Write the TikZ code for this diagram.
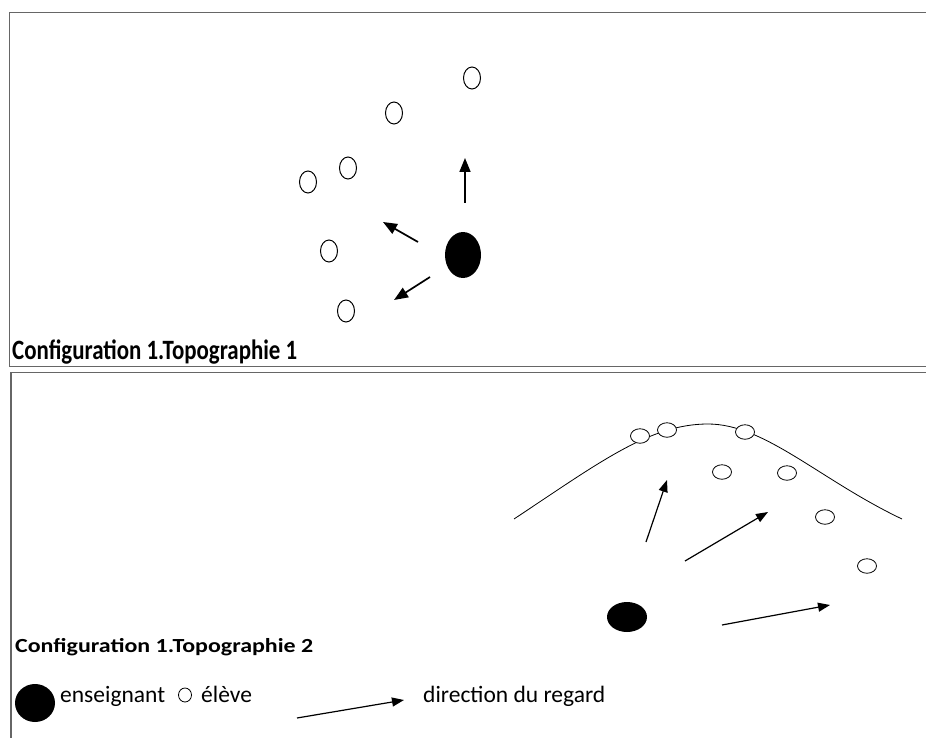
\documentclass[tikz,border=0pt]{standalone}
\usepackage{graphicx}
\usepackage{fontspec}
\setmainfont{Carlito}
\usetikzlibrary{arrows.meta, shapes.geometric}

\begin{document}
\begin{tikzpicture}[
  x=1pt, y=-1pt,
  cadre/.style={draw=black!60, line width=1.4pt},
  eleve/.style={draw, ellipse, fill=white, line width=1pt, inner sep=0pt, minimum width=17pt, minimum height=22pt},
  elevebas/.style={draw, ellipse, fill=white, line width=0.8pt, inner sep=0pt, minimum width=19pt, minimum height=14.5pt},
  prof/.style={ellipse, fill=black, inner sep=0pt},
  regard/.style={-{Triangle[length=14pt, width=11pt]}, line width=1.7pt},
  regardbas/.style={-{Triangle[length=12pt, width=9pt]}, line width=1.2pt},
  legende/.style={anchor=base west, inner sep=0pt, font=\fontsize{23.5}{23.5}\selectfont}
]
\useasboundingbox (0,0) rectangle (926,738);

% cadres
\draw[cadre] (926,12.5) -- (9.5,12.5) -- (9.5,366.5) -- (926,366.5);
\draw[cadre] (926,372.5) -- (11,372.5) -- (11,738);

% topographie 1
\node[prof, minimum width=36pt, minimum height=46pt] (ens1) at (463,255) {};
\node[eleve] (e1) at (472,78) {};
\node[eleve] (e2) at (394,113) {};
\node[eleve] (e3) at (348,168) {};
\node[eleve] (e4) at (308,182) {};
\node[eleve] (e5) at (329,251) {};
\node[eleve] (e6) at (346,311) {};
\coordinate (h0) at (465,203); \coordinate (h1) at (465,158);
\coordinate (g0) at (418,242); \coordinate (g1) at (383,222);
\coordinate (b0) at (430,277); \coordinate (b1) at (394,300);
\draw[regard] (h0)--(h1); \draw[regard] (g0)--(g1); \draw[regard] (b0)--(b1);
\node[legende, font=\bfseries\fontsize{28}{28}\selectfont] (titre1) at (12,359)
  {\resizebox{285pt}{\height}{Configuration 1.Topographie 1}};

% topographie 2
\draw[line width=0.8pt] (514,519) .. controls (600,462) and (650,424) .. (708,424)
  .. controls (765,424) and (820,480) .. (902,519);
\node[elevebas] (f1) at (640,436) {};
\node[elevebas] (f2) at (667,430) {};
\node[elevebas] (f3) at (745,432) {};
\node[elevebas] (f4) at (722,472) {};
\node[elevebas] (f5) at (787,473) {};
\node[elevebas] (f6) at (825,517) {};
\node[elevebas] (f7) at (867,566) {};
\node[prof, minimum width=40pt, minimum height=30pt] (ens2) at (627,617) {};
\coordinate (p0) at (646,542); \coordinate (p1) at (667,480);
\coordinate (q0) at (685,561); \coordinate (q1) at (768,512);
\coordinate (s0) at (722,625); \coordinate (s1) at (830,605);
\draw[regardbas] (p0)--(p1); \draw[regardbas] (q0)--(q1); \draw[regardbas] (s0)--(s1);
\node[legende, font=\bfseries\fontsize{20}{20}\selectfont] (titre2) at (15,652)
  {\resizebox{298pt}{\height}{Configuration 1.Topographie 2}};

% legende
\node[prof, minimum width=40pt, minimum height=38pt] (lens) at (35,703) {};
\node[legende] (tens) at (60,702) {enseignant};
\node[draw, ellipse, line width=0.8pt, inner sep=0pt, minimum width=13pt, minimum height=14pt] (lel) at (185,695) {};
\node[legende] (tel) at (201,702) {élève};
\coordinate (l0) at (297,718); \coordinate (l1) at (404,700);
\draw[regardbas] (l0)--(l1);
\node[legende] (treg) at (423,702) {direction du regard};
\end{tikzpicture}
\end{document}
